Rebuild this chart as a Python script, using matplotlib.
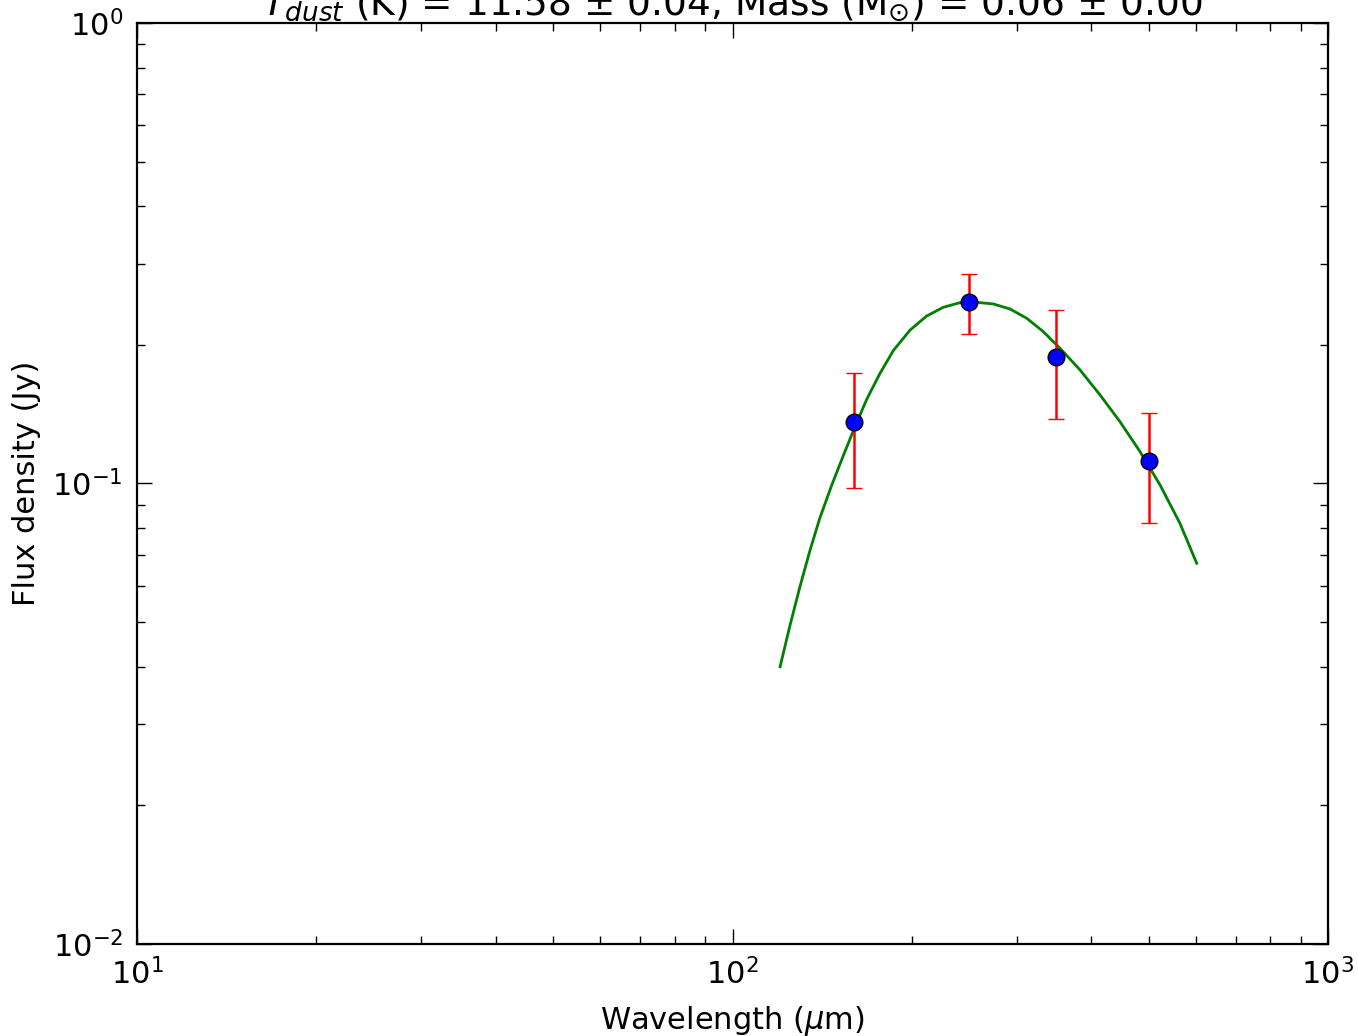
import matplotlib
matplotlib.use("Agg")
import matplotlib.pyplot as plt

# observed photometry
wavelength = [160, 250, 350, 500]
flux = [0.136, 0.248, 0.188, 0.112]
flux_err = [0.038, 0.037, 0.050, 0.030]

# fitted model curve
model_wl = [120.2, 124.9, 129.8, 134.9, 140.2, 146.7, 153.5, 160.6, 168.1, 176.9, 186.3,
            198.7, 211.9, 226.0, 241.0, 253.7, 274.2, 292.4, 311.9, 332.6, 354.8, 383.4,
            414.2, 447.4, 483.4, 522.3, 564.2, 601.9]
model_flux = [0.0400, 0.0492, 0.0597, 0.0715, 0.0842, 0.0990, 0.1150, 0.1329, 0.1525, 0.1735, 0.1945,
              0.2154, 0.2311, 0.2414, 0.2470, 0.2478, 0.2454, 0.2393, 0.2285, 0.2137, 0.1966, 0.1764,
              0.1557, 0.1362, 0.1173, 0.0993, 0.0819, 0.0671]

title = r"$T_{dust}$ (K) = 11.58 $\pm$ 0.04, Mass (M$_{\odot}$) = 0.06 $\pm$ 0.00"

fig = plt.figure(figsize=(13.58, 10.36), dpi=100)
ax = fig.add_axes([137/1358, 1-944/1036, (1328-137)/1358, (944-23)/1036])
ax.set_xscale("log")
ax.set_yscale("log")
ax.set_xlim(10, 1000)
ax.set_ylim(0.01, 1)

ax.plot(model_wl, model_flux, color="#008000", lw=2.0, zorder=2)
ax.errorbar(wavelength, flux, yerr=flux_err, fmt="o", color="red", ecolor="red",
            elinewidth=1.8, capsize=6, capthick=1.8, markerfacecolor="blue",
            markeredgecolor="black", markeredgewidth=1.0, markersize=12, zorder=3)

ax.tick_params(which="both", direction="in", top=True, right=True, labelsize=22, pad=10)
ax.tick_params(which="major", length=11, width=1.0)
ax.tick_params(which="minor", length=6, width=1.0)
for s in ax.spines.values():
    s.set_linewidth(1.6)

ax.set_xlabel(r"Wavelength ($\mu$m)", fontsize=22, labelpad=10)
ax.set_ylabel("Flux density (Jy)", fontsize=22, labelpad=8)
ax.set_title(title, fontsize=27, pad=5)

fig.savefig("out.png", dpi=100)
